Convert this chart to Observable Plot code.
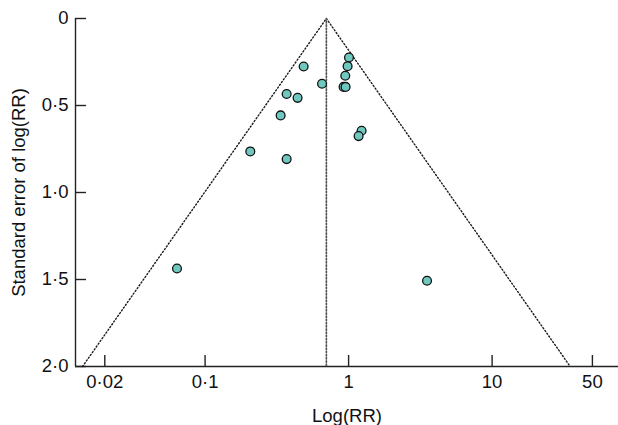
<!DOCTYPE html>
<html><head><meta charset="utf-8">
<script src="https://cdn.jsdelivr.net/npm/d3@7"></script>
<script src="https://cdn.jsdelivr.net/npm/@observablehq/plot@0.6"></script>
<style>body{margin:0;background:#fff}</style>
</head><body><div id="chart"></div>
<script>
// Study estimates
const studyRR = [0.486, 0.653, 0.370, 0.441, 0.336, 1.006, 0.984, 0.948, 0.923, 0.953, 1.232, 1.174, 0.2065, 0.370, 0.0637, 3.52];
const studySE = [0.276, 0.375, 0.434, 0.456, 0.557, 0.224, 0.274, 0.329, 0.393, 0.393, 0.645, 0.676, 0.764, 0.808, 1.437, 1.507];

// Pooled estimate and pseudo-95% confidence limits (funnel)
const pooledRR = [0.70, 0.70];
const pooledSE = [0, 2];
const funnelRR = [0.0140, 0.70, 35.0];
const funnelSE = [2, 0, 2];

// Axis ticks and domains
const xTicks = [0.02, 0.1, 1, 10, 50];
const yTicks = [0, 0.5, 1, 1.5, 2];
const xDomain = [0.0125, 76];
const yDomain = [0, 2];

const points = studyRR.map((rr, i) => ({rr, se: studySE[i]}));
const funnel = funnelRR.map((rr, i) => ({rr, se: funnelSE[i]}));
const pooled = pooledRR.map((rr, i) => ({rr, se: pooledSE[i]}));

const fmtX = d => String(d).replace(".", "\u00B7");
const fmtY = d => d === 0 ? "0" : d.toFixed(1).replace(".", "\u00B7");
const blank = () => "";

const FS = 18.5;

const chart = Plot.plot({
  width: 618,
  height: 425,
  marginLeft: 75,
  marginRight: 0,
  marginTop: 18,
  marginBottom: 59,
  x: {type: "log", domain: xDomain},
  y: {domain: yDomain, reverse: true},
  style: {fontFamily: "'Liberation Sans', Arial, sans-serif", fontSize: FS + "px", color: "#111", background: "#fff"},
  marks: [
    Plot.ruleY([yDomain[1]], {stroke: "#222", strokeWidth: 1.4}),
    Plot.ruleX([xDomain[0]], {stroke: "#222", strokeWidth: 1.4}),
    Plot.axisX({ticks: xTicks, anchor: "bottom", tickSize: -11, tickFormat: blank, strokeWidth: 1.4, stroke: "#222",
      label: "Log(RR)", labelAnchor: "center", labelArrow: "none", labelOffset: 55}),
    Plot.axisY({ticks: yTicks, anchor: "left", tickSize: -11, tickFormat: blank, strokeWidth: 1.4, stroke: "#222",
      label: "Standard error of log(RR)", labelAnchor: "center", labelArrow: "none", labelOffset: 63.5}),
    Plot.text(xTicks, {x: d => d, text: fmtX, frameAnchor: "bottom", lineAnchor: "top", dy: 8.5, fontSize: FS, fill: "#111"}),
    Plot.text(yTicks, {y: d => d, text: fmtY, frameAnchor: "left", textAnchor: "end", dx: -7, fontSize: FS, fill: "#111"}),
    Plot.line(funnel, {x: "rr", y: "se", stroke: "#1a1a1a", strokeWidth: 1.4, strokeDasharray: "1.2,2.2"}),
    Plot.line(pooled, {x: "rr", y: "se", stroke: "#555", strokeWidth: 1.7, strokeDasharray: "1.3,1.9"}),
    Plot.dot(points, {x: "rr", y: "se", r: 4.4, fill: "#6fc8c0", stroke: "#111", strokeWidth: 1.3})
  ]
});
document.getElementById("chart").appendChild(chart);
</script>
</body></html>
